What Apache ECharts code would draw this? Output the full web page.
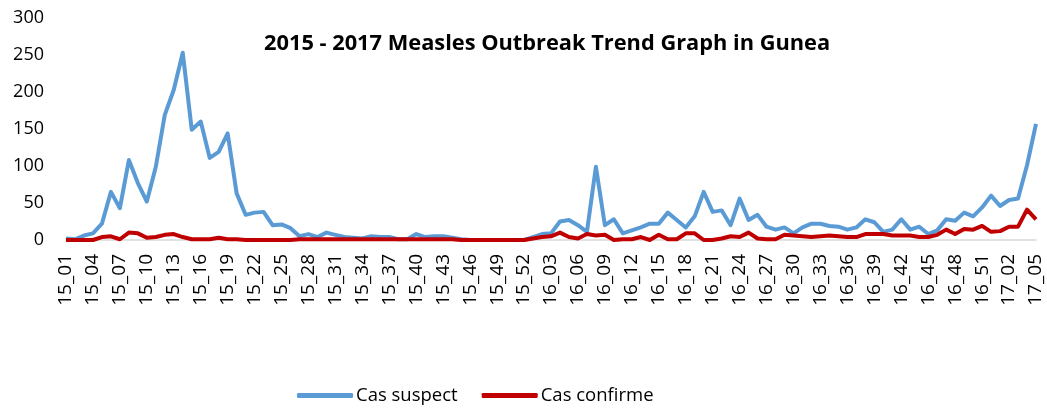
<!DOCTYPE html>
<html><head><meta charset="utf-8">
<script src="https://cdn.jsdelivr.net/npm/echarts@6/dist/echarts.min.js"></script>
<style>html,body{margin:0;padding:0;background:#fff}#c{width:1047px;height:412px}</style>
</head><body><div id="c"></div>
<script>
// Categories: week labels 15_01..15_52, 16_01..16_52, 17_01..17_05
const weeks2015 = ["15_01","15_02","15_03","15_04","15_05","15_06","15_07","15_08","15_09","15_10","15_11","15_12","15_13","15_14","15_15","15_16","15_17","15_18","15_19","15_20","15_21","15_22","15_23","15_24","15_25","15_26","15_27","15_28","15_29","15_30","15_31","15_32","15_33","15_34","15_35","15_36","15_37","15_38","15_39","15_40","15_41","15_42","15_43","15_44","15_45","15_46","15_47","15_48","15_49","15_50","15_51","15_52"];
const weeks2016 = ["16_01","16_02","16_03","16_04","16_05","16_06","16_07","16_08","16_09","16_10","16_11","16_12","16_13","16_14","16_15","16_16","16_17","16_18","16_19","16_20","16_21","16_22","16_23","16_24","16_25","16_26","16_27","16_28","16_29","16_30","16_31","16_32","16_33","16_34","16_35","16_36","16_37","16_38","16_39","16_40","16_41","16_42","16_43","16_44","16_45","16_46","16_47","16_48","16_49","16_50","16_51","16_52"];
const weeks2017 = ["17_01","17_02","17_03","17_04","17_05"];
const categories = weeks2015.concat(weeks2016, weeks2017);

const casSuspect = [
  2,1,6,9,22,65,43,108,77,52,99,169,203,253,149,160,111,119,144,63,34,37,38,20,21,16,5,8,4,10,7,4,3,2,5,4,4,1,1,8,4,5,5,3,1,0,0,0,0,0,0,0,
  4,8,9,25,27,20,11,99,20,28,9,13,17,22,22,37,27,17,32,65,38,40,20,56,27,34,18,14,17,9,17,22,22,19,18,14,17,28,24,11,14,28,14,18,8,13,28,26,37,32,44,60,46,
  54,56,101,157
];
const casConfirme = [
  0,0,0,0,4,5,1,10,9,3,4,7,8,4,1,1,1,3,1,1,0,0,0,0,0,0,1,1,1,1,1,1,1,1,1,1,1,1,1,1,1,1,1,1,0,0,0,0,0,0,0,0,
  2,4,5,10,4,2,8,6,7,0,1,1,4,0,7,1,1,9,9,0,0,2,5,4,10,2,1,1,7,6,5,4,5,6,5,4,4,8,8,8,6,6,6,4,4,7,14,8,15,14,19,11,12,
  18,18,41,28
];
const yTicks = [0,50,100,150,200,250,300];

const FONT = "Open Sans";
const chart = echarts.init(document.getElementById('c'));
chart.setOption({
  animation: false,
  backgroundColor: '#fff',
  title: {
    text: '2015 - 2017 Measles Outbreak Trend Graph in Gunea',
    left: 259, top: 28,
    textStyle: {fontFamily: FONT, fontWeight: 'bold', fontSize: 21.8, color: '#000'}
  },
  legend: {
    bottom: 2, left: 292,
    itemWidth: 56, itemHeight: 5, itemGap: 24,
    icon: 'roundRect',
    textStyle: {fontFamily: FONT, fontSize: 18.5, color: '#000', padding: [0,0,0,-2]},
    data: ['Cas suspect', 'Cas confirme']
  },
  grid: {left: 66, right: 11, top: 18, height: 222, containLabel: false},
  xAxis: {
    type: 'category', data: categories, boundaryGap: false,
    axisLine: {lineStyle: {color: '#d9d9d9', width: 1.5}},
    axisTick: {show: false},
    axisLabel: {interval: 2, rotate: 90, fontFamily: FONT, fontSize: 19, color: '#000', margin: 14}
  },
  yAxis: {
    type: 'value', min: yTicks[0], max: yTicks[yTicks.length-1], interval: 50,
    axisLine: {show: false}, axisTick: {show: false},
    splitLine: {show: false},
    axisLabel: {fontFamily: FONT, fontSize: 18, color: '#000', margin: 22}
  },
  series: [
    {name: 'Cas suspect', type: 'line', data: casSuspect, symbol: 'none',
     lineStyle: {color: '#5B9BD5', width: 4, join: 'round'}, itemStyle: {color: '#5B9BD5'}},
    {name: 'Cas confirme', type: 'line', data: casConfirme, symbol: 'none',
     lineStyle: {color: '#C00000', width: 4, join: 'round'}, itemStyle: {color: '#C00000'}}
  ]
});
</script></body></html>
